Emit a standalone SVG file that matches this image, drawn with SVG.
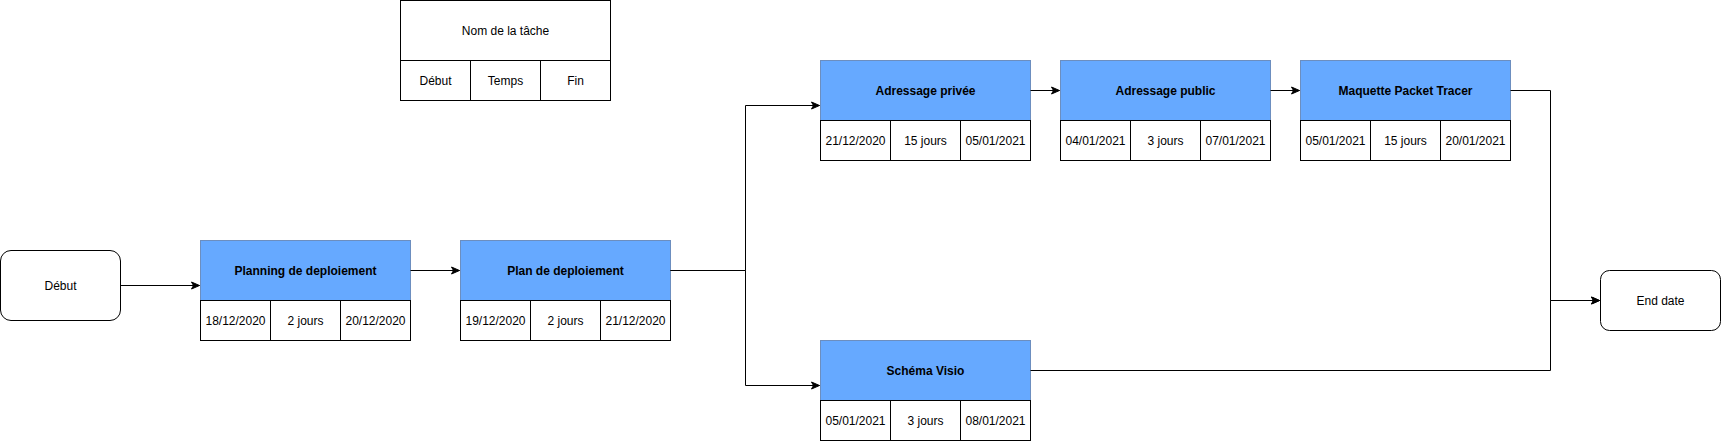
<svg xmlns="http://www.w3.org/2000/svg" width="1721" height="441" viewBox="0 0 1721 441">
<defs>
<marker id="arr" markerWidth="10" markerHeight="10" refX="9" refY="5" orient="auto" markerUnits="userSpaceOnUse">
<path d="M1,1.5 L9,5 L1,8.5 L3,5 Z" fill="#000" stroke="#000" stroke-width="1"/>
</marker>
<style>
.cell{fill:#fff;stroke:#000;stroke-width:1}
.head{fill:#66A9FF;stroke:#6c8ebf;stroke-width:1}
.term{fill:#fff;stroke:#000;stroke-width:1}
.t{font-family:"Liberation Sans",Arial,sans-serif;font-size:12px;fill:#000;text-anchor:middle;dominant-baseline:central}
.b{font-weight:bold}
.edge{fill:none;stroke:#000;stroke-width:1}
</style>
</defs>
<rect width="1721" height="441" fill="#fff"/>

<g id="legend">
<rect class="cell" x="400.5" y="0.5" width="210" height="60"/>
<rect class="cell" x="400.5" y="60.5" width="70" height="40"/>
<rect class="cell" x="470.5" y="60.5" width="70" height="40"/>
<rect class="cell" x="540.5" y="60.5" width="70" height="40"/>
<text class="t" x="505.5" y="30.5">Nom de la tâche</text>
<text class="t" x="435.5" y="80.5">Début</text>
<text class="t" x="505.5" y="80.5">Temps</text>
<text class="t" x="575.5" y="80.5">Fin</text>
</g>

<g id="debut">
<rect class="term" x="0.5" y="250.5" width="120" height="70" rx="10.5" ry="10.5"/>
<text class="t" x="60.5" y="285.5">Début</text>
</g>

<g id="planning">
<rect class="head" x="200.5" y="240.5" width="210" height="60"/>
<rect class="cell" x="200.5" y="300.5" width="70" height="40"/>
<rect class="cell" x="270.5" y="300.5" width="70" height="40"/>
<rect class="cell" x="340.5" y="300.5" width="70" height="40"/>
<text class="t b" x="305.5" y="270.5">Planning de deploiement</text>
<text class="t" x="235.5" y="320.5">18/12/2020</text>
<text class="t" x="305.5" y="320.5">2 jours</text>
<text class="t" x="375.5" y="320.5">20/12/2020</text>
</g>

<g id="plan">
<rect class="head" x="460.5" y="240.5" width="210" height="60"/>
<rect class="cell" x="460.5" y="300.5" width="70" height="40"/>
<rect class="cell" x="530.5" y="300.5" width="70" height="40"/>
<rect class="cell" x="600.5" y="300.5" width="70" height="40"/>
<text class="t b" x="565.5" y="270.5">Plan de deploiement</text>
<text class="t" x="495.5" y="320.5">19/12/2020</text>
<text class="t" x="565.5" y="320.5">2 jours</text>
<text class="t" x="635.5" y="320.5">21/12/2020</text>
</g>

<g id="adressage-privee">
<rect class="head" x="820.5" y="60.5" width="210" height="60"/>
<rect class="cell" x="820.5" y="120.5" width="70" height="40"/>
<rect class="cell" x="890.5" y="120.5" width="70" height="40"/>
<rect class="cell" x="960.5" y="120.5" width="70" height="40"/>
<text class="t b" x="925.5" y="90.5">Adressage privée</text>
<text class="t" x="855.5" y="140.5">21/12/2020</text>
<text class="t" x="925.5" y="140.5">15 jours</text>
<text class="t" x="995.5" y="140.5">05/01/2021</text>
</g>

<g id="adressage-public">
<rect class="head" x="1060.5" y="60.5" width="210" height="60"/>
<rect class="cell" x="1060.5" y="120.5" width="70" height="40"/>
<rect class="cell" x="1130.5" y="120.5" width="70" height="40"/>
<rect class="cell" x="1200.5" y="120.5" width="70" height="40"/>
<text class="t b" x="1165.5" y="90.5">Adressage public</text>
<text class="t" x="1095.5" y="140.5">04/01/2021</text>
<text class="t" x="1165.5" y="140.5">3 jours</text>
<text class="t" x="1235.5" y="140.5">07/01/2021</text>
</g>

<g id="maquette">
<rect class="head" x="1300.5" y="60.5" width="210" height="60"/>
<rect class="cell" x="1300.5" y="120.5" width="70" height="40"/>
<rect class="cell" x="1370.5" y="120.5" width="70" height="40"/>
<rect class="cell" x="1440.5" y="120.5" width="70" height="40"/>
<text class="t b" x="1405.5" y="90.5">Maquette Packet Tracer</text>
<text class="t" x="1335.5" y="140.5">05/01/2021</text>
<text class="t" x="1405.5" y="140.5">15 jours</text>
<text class="t" x="1475.5" y="140.5">20/01/2021</text>
</g>

<g id="schema-visio">
<rect class="head" x="820.5" y="340.5" width="210" height="60"/>
<rect class="cell" x="820.5" y="400.5" width="70" height="40"/>
<rect class="cell" x="890.5" y="400.5" width="70" height="40"/>
<rect class="cell" x="960.5" y="400.5" width="70" height="40"/>
<text class="t b" x="925.5" y="370.5">Schéma Visio</text>
<text class="t" x="855.5" y="420.5">05/01/2021</text>
<text class="t" x="925.5" y="420.5">3 jours</text>
<text class="t" x="995.5" y="420.5">08/01/2021</text>
</g>

<g id="end-date">
<rect class="term" x="1600.5" y="270.5" width="120" height="60" rx="9" ry="9"/>
<text class="t" x="1660.5" y="300.5">End date</text>
</g>

<g id="connectors">
<path class="edge" d="M120.5,285.5 L199.5,285.5" marker-end="url(#arr)"/>
<path class="edge" d="M410.5,270.5 L459.5,270.5" marker-end="url(#arr)"/>
<path class="edge" d="M670.5,270.5 L745.5,270.5 L745.5,105.5 L819.5,105.5" marker-end="url(#arr)"/>
<path class="edge" d="M670.5,270.5 L745.5,270.5 L745.5,385.5 L819.5,385.5" marker-end="url(#arr)"/>
<path class="edge" d="M1030.5,90.5 L1059.5,90.5" marker-end="url(#arr)"/>
<path class="edge" d="M1270.5,90.5 L1299.5,90.5" marker-end="url(#arr)"/>
<path class="edge" d="M1510.5,90.5 L1550.5,90.5 L1550.5,300.5 L1599.5,300.5" marker-end="url(#arr)"/>
<path class="edge" d="M1030.5,370.5 L1550.5,370.5 L1550.5,300.5 L1599.5,300.5" marker-end="url(#arr)"/>
</g>
</svg>
